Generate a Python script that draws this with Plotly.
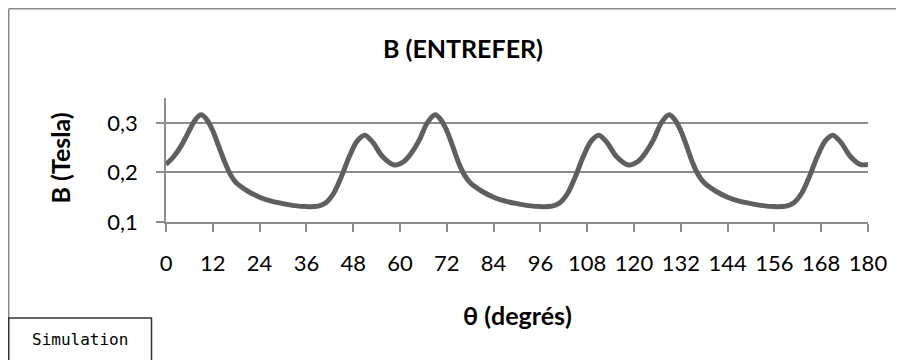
import plotly.graph_objects as go

# ---- data ----
theta_deg = [0, 2, 4, 6, 7.5, 9, 10.5, 12, 13.5, 15, 16.5, 18, 21, 24, 27, 30, 33, 36, 39, 41, 43, 45, 47, 49, 51, 53, 55.5, 58.5,
             61, 63, 65, 67, 69, 70.5, 72, 73.5, 75, 76.5, 78, 81, 84, 87, 90, 93, 96, 99, 101, 103, 105, 107, 109, 111, 113, 115.5, 118.5,
             121, 123, 125, 127, 129, 130.5, 132, 133.5, 135, 136.5, 138, 141, 144, 147, 150, 153, 156, 159, 161, 163, 165, 167, 169, 171, 173, 175.5, 178,
             180]
b_tesla = [0.216, 0.232, 0.255, 0.285, 0.306, 0.316, 0.306, 0.284, 0.253, 0.222, 0.196, 0.179, 0.162, 0.150, 0.142, 0.137, 0.133, 0.131, 0.132, 0.139, 0.158, 0.192, 0.232, 0.263, 0.275, 0.261, 0.232, 0.215,
           0.222, 0.240, 0.266, 0.300, 0.316, 0.306, 0.284, 0.253, 0.220, 0.195, 0.179, 0.162, 0.150, 0.142, 0.137, 0.133, 0.131, 0.132, 0.139, 0.158, 0.192, 0.232, 0.263, 0.275, 0.261, 0.232, 0.215,
           0.222, 0.240, 0.266, 0.300, 0.316, 0.306, 0.284, 0.253, 0.220, 0.195, 0.179, 0.162, 0.150, 0.142, 0.137, 0.133, 0.131, 0.132, 0.139, 0.158, 0.192, 0.232, 0.263, 0.275, 0.261, 0.232, 0.216,
           0.216]
x_ticks = [0, 12, 24, 36, 48, 60, 72, 84, 96, 108, 120, 132, 144, 156, 168, 180]
y_ticks = [0.1, 0.2, 0.3]

title_text = "B (ENTREFER)"
x_title = "θ (degrés)"
y_title = "B (Tesla)"
badge_text = "Simulation"

# ---- layout geometry (pixels); page body has an 8px margin ----
OFF = 8
W, H = 896, 352
L, R, T, B = 158, 36, 90, 138
PW, PH = W - L - R, H - T - B


def px(xp):  # reference-window pixel -> paper x
    return (xp - OFF - L) / PW


def py(yp):  # reference-window pixel -> paper y
    return (H - B - (yp - OFF)) / PH


FONT = "Lato"
GRID = "#8c8c8c"

fig = go.Figure()
fig.add_trace(go.Scatter(
    x=theta_deg, y=b_tesla, mode="lines",
    line=dict(color="#5f5f5f", width=5, shape="spline", smoothing=0.9),
    showlegend=False, hoverinfo="skip"))

fig.update_layout(
    width=W, height=H,
    margin=dict(l=L, r=R, t=T, b=B, pad=0),
    paper_bgcolor="white", plot_bgcolor="white",
    separators=", ",
    font=dict(family=FONT, color="black", size=22),
    xaxis=dict(range=[0, 180], tickvals=x_ticks, ticktext=[str(v) for v in x_ticks],
               showgrid=False, zeroline=False, showline=True, linecolor=GRID, linewidth=1.5,
               ticks="outside", ticklen=8, tickcolor=GRID, tickwidth=1.5,
               ticklabelstandoff=13, tickfont=dict(family=FONT, size=22, color="black")),
    yaxis=dict(range=[0.1, 0.35], tickvals=y_ticks, tickformat=".1f",
               showgrid=True, gridcolor=GRID, gridwidth=1.5, zeroline=False,
               showline=True, linecolor=GRID, linewidth=1.5,
               ticks="outside", ticklen=8, tickcolor=GRID, tickwidth=1.5,
               ticklabelstandoff=14, tickfont=dict(family=FONT, size=22, color="black")),
)

annos = [
    dict(text="<b>%s</b>" % title_text, x=px(462.7), y=py(48), size=25),
    dict(text="<b>%s</b>" % x_title, x=px(517), y=py(315), size=25),
    dict(text="<b>%s</b>" % y_title, x=px(59), y=py(158.5), size=25, angle=-90),
    dict(text=badge_text, x=px(80), y=py(339), size=16, family="DejaVu Sans Mono"),
]
for a in annos:
    fig.add_annotation(xref="paper", yref="paper", showarrow=False,
                       xanchor="center", yanchor="middle",
                       font=dict(family=a.get("family", FONT), size=a["size"], color="black"),
                       text=a["text"], x=a["x"], y=a["y"], textangle=a.get("angle", 0))

# outer chart frame (top and left edges visible)
fig.add_shape(type="line", xref="paper", yref="paper", x0=px(8.75), x1=px(910), y0=py(8.75), y1=py(8.75),
              line=dict(color="#8a8a8a", width=1.5))
fig.add_shape(type="line", xref="paper", yref="paper", x0=px(8.75), x1=px(8.75), y0=py(8.75), y1=py(365),
              line=dict(color="#8a8a8a", width=1.5))
# "Simulation" badge
fig.add_shape(type="rect", xref="paper", yref="paper", x0=px(8.75), x1=px(151.5), y0=py(318), y1=py(365),
              line=dict(color="#333333", width=1.5), fillcolor="white")

fig.write_html("out.html")
